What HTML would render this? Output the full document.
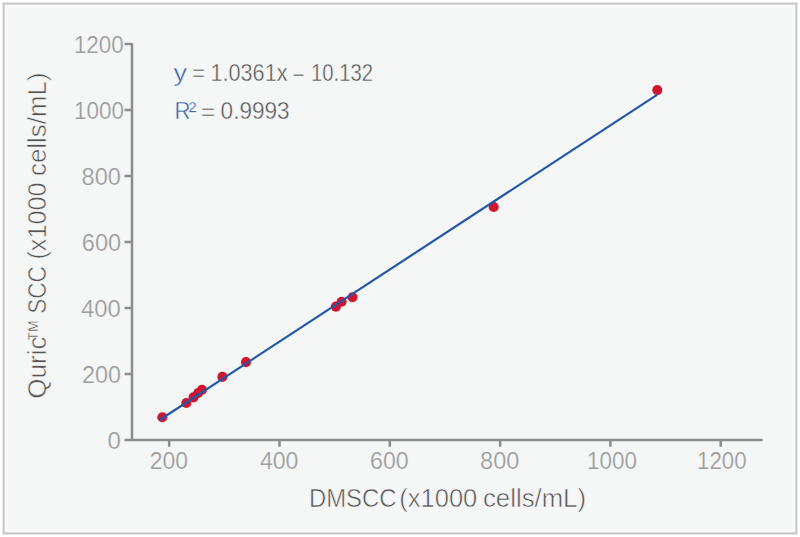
<!DOCTYPE html>
<html>
<head>
<meta charset="utf-8">
<style>
html,body{margin:0;padding:0;background:#fff;}
body{width:800px;height:537px;position:relative;overflow:hidden;font-family:"Liberation Sans",Arial,sans-serif;}
.b{position:absolute;}
#b1{left:2px;top:2px;width:796px;height:533px;background:#e6e6e6;}
#b2{left:3px;top:3px;width:794px;height:531px;background:#c7c7c7;}
#b3{left:4px;top:4px;width:792px;height:529px;background:#d9d9d9;}
#b4{left:5px;top:5px;width:790px;height:527px;background:#fafafa;}
#b5{left:7px;top:7px;width:786px;height:523px;background:#f5f6f6;}
svg{position:absolute;left:0;top:0;}
.tl{font-family:"Liberation Sans",Arial,sans-serif;font-size:24px;fill:#9d9d9d;stroke:#f5f6f6;stroke-width:0.2px;}
.eq{font-family:"Liberation Sans",Arial,sans-serif;font-size:24px;fill:#555;stroke:#f5f6f6;stroke-width:0.4px;}
.bl{fill:#3d68ad;}
.at{font-family:"Liberation Sans",Arial,sans-serif;font-size:26px;fill:#555;stroke:#f5f6f6;stroke-width:0.55px;}
</style>
</head>
<body>
<div class="b" id="b1"></div>
<div class="b" id="b2"></div>
<div class="b" id="b3"></div>
<div class="b" id="b4"></div>
<div class="b" id="b5"></div>
<svg width="800" height="537" viewBox="0 0 800 537">
  <g stroke="#8d8d8d" stroke-width="2.5" fill="none">
    <line x1="132" y1="43" x2="132" y2="441"/>
    <line x1="124.5" y1="440" x2="762.5" y2="440"/>
    <line x1="124.5" y1="44" x2="132" y2="44"/>
    <line x1="124.5" y1="110" x2="132" y2="110"/>
    <line x1="124.5" y1="176" x2="132" y2="176"/>
    <line x1="124.5" y1="242" x2="132" y2="242"/>
    <line x1="124.5" y1="308" x2="132" y2="308"/>
    <line x1="124.5" y1="374" x2="132" y2="374"/>
    <line x1="169.2" y1="440" x2="169.2" y2="446.8"/>
    <line x1="279.5" y1="440" x2="279.5" y2="446.8"/>
    <line x1="389.8" y1="440" x2="389.8" y2="446.8"/>
    <line x1="500.1" y1="440" x2="500.1" y2="446.8"/>
    <line x1="610.4" y1="440" x2="610.4" y2="446.8"/>
    <line x1="720.7" y1="440" x2="720.7" y2="446.8"/>
  </g>
  <g class="tl">
    <text class="m" x="73.9" y="52.6" textLength="49.9" lengthAdjust="spacingAndGlyphs">1200</text>
    <text class="m" x="73.9" y="118.6" textLength="50.0" lengthAdjust="spacingAndGlyphs">1000</text>
    <text class="m" x="81.5" y="184.6" textLength="39.4" lengthAdjust="spacingAndGlyphs">800</text>
    <text class="m" x="81.8" y="250.6" textLength="39.3" lengthAdjust="spacingAndGlyphs">600</text>
    <text class="m" x="81.1" y="316.6" textLength="39.8" lengthAdjust="spacingAndGlyphs">400</text>
    <text class="m" x="81.9" y="382.6" textLength="39.0" lengthAdjust="spacingAndGlyphs">200</text>
    <text class="m" x="107.5" y="448.6" textLength="13.4" lengthAdjust="spacingAndGlyphs">0</text>
    <text class="m" x="149.7" y="468.6" textLength="38.2" lengthAdjust="spacingAndGlyphs">200</text>
    <text class="m" x="259.9" y="468.6" textLength="38.6" lengthAdjust="spacingAndGlyphs">400</text>
    <text class="m" x="370.1" y="468.6" textLength="38.6" lengthAdjust="spacingAndGlyphs">600</text>
    <text class="m" x="480.1" y="468.6" textLength="39.3" lengthAdjust="spacingAndGlyphs">800</text>
    <text class="m" x="587.1" y="468.6" textLength="49.8" lengthAdjust="spacingAndGlyphs">1000</text>
    <text class="m" x="697.1" y="468.6" textLength="49.5" lengthAdjust="spacingAndGlyphs">1200</text>
  </g>
  <g fill="#d01530">
    <circle cx="162.3" cy="417.2" r="5.05"/>
    <circle cx="186.3" cy="403" r="5.05"/>
    <circle cx="193.5" cy="397.4" r="5.05"/>
    <circle cx="198.2" cy="393" r="5.05"/>
    <circle cx="202" cy="389.7" r="5.05"/>
    <circle cx="222.4" cy="376.9" r="5.05"/>
    <circle cx="246" cy="362.1" r="5.05"/>
    <circle cx="335.9" cy="306.6" r="5.05"/>
    <circle cx="341.6" cy="301.8" r="5.05"/>
    <circle cx="352.5" cy="297.2" r="5.05"/>
    <circle cx="493.7" cy="207" r="5.05"/>
    <circle cx="657.3" cy="90.1" r="5.05"/>
  </g>
  <line x1="159.6" y1="420" x2="657" y2="94.8" stroke="#2258aa" stroke-width="2.2"/>
  <text class="eq bl m" x="173.5" y="81.3" textLength="13.5" lengthAdjust="spacingAndGlyphs">y</text>
  <text class="eq m" x="192" y="81.3" textLength="13" lengthAdjust="spacingAndGlyphs">=</text>
  <text class="eq m" x="210.5" y="81.3" textLength="77" lengthAdjust="spacingAndGlyphs">1.0361x</text>
  <text class="eq m" x="293.5" y="81.3" textLength="10" lengthAdjust="spacingAndGlyphs">–</text>
  <text class="eq m" x="311" y="81.3" textLength="62" lengthAdjust="spacingAndGlyphs">10.132</text>
  <text class="eq bl m" x="174.5" y="119.3" textLength="16" lengthAdjust="spacingAndGlyphs">R</text>
  <text class="eq bl m" x="188.5" y="119.3" textLength="8" lengthAdjust="spacingAndGlyphs">²</text>
  <text class="eq m" x="201" y="120" textLength="14" lengthAdjust="spacingAndGlyphs">=</text>
  <text class="eq m" x="220.6" y="119.3" textLength="69" lengthAdjust="spacingAndGlyphs">0.9993</text>
  <text class="at m" x="309" y="506.8" textLength="87.5" lengthAdjust="spacingAndGlyphs">DMSCC</text>
  <text class="at m" x="399.3" y="506.8" textLength="78" lengthAdjust="spacingAndGlyphs">(x1000</text>
  <text class="at m" x="483" y="506.8" textLength="103" lengthAdjust="spacingAndGlyphs">cells/mL)</text>
  <g transform="translate(45.5,0) rotate(-90)">
    <text class="at m" x="-398.8" y="0" textLength="62.5" lengthAdjust="spacingAndGlyphs">Quric</text>
    <text class="at m" x="-342.2" y="0" textLength="23.5" lengthAdjust="spacingAndGlyphs">™</text>
    <text class="at m" x="-313.8" y="0" textLength="47.5" lengthAdjust="spacingAndGlyphs">SCC</text>
    <text class="at m" x="-259.6" y="0" textLength="77" lengthAdjust="spacingAndGlyphs">(x1000</text>
    <text class="at m" x="-176" y="0" textLength="103.5" lengthAdjust="spacingAndGlyphs">cells/mL)</text>
  </g>
</svg>
</body>
</html>
